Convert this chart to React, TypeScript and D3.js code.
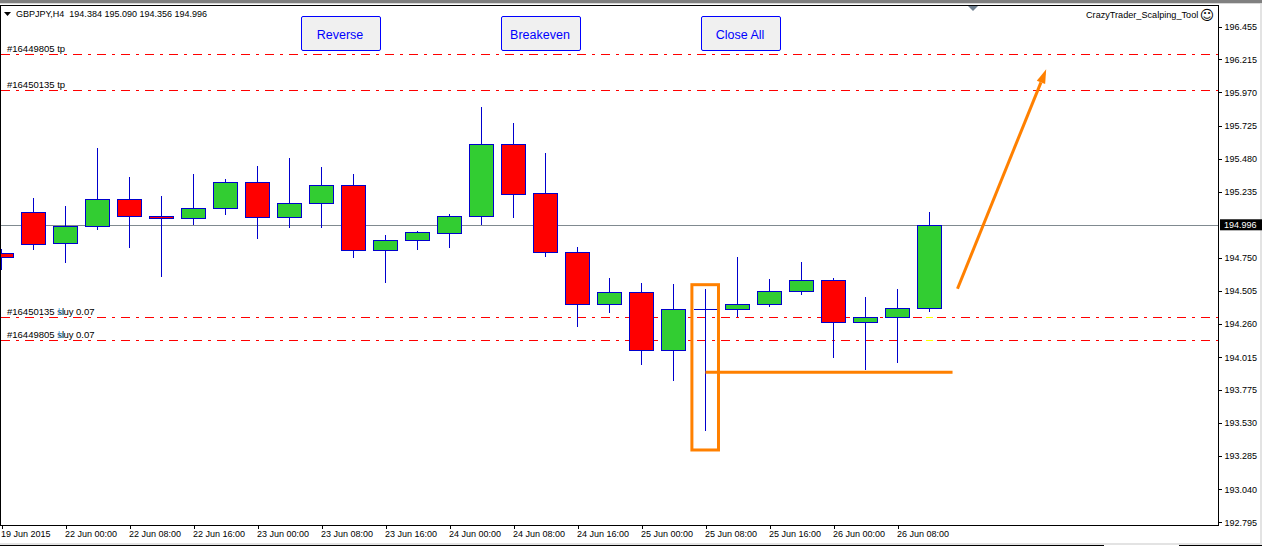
import React, {useEffect, useRef} from "react";
import * as d3 from "d3";

const W = 1262, H = 547;

const opens = [194.79, 195.092, 194.863, 194.989, 195.188, 195.062, 195.048, 195.121, 195.313, 195.055, 195.158, 195.291, 194.812, 194.885, 194.937, 195.062, 195.593, 195.232, 194.797, 194.413, 194.502, 194.074, 194.377, 194.377, 194.413, 194.509, 194.59, 194.281, 194.318, 194.384];
const highs = [194.821, 195.197, 195.131, 195.566, 195.352, 195.212, 195.374, 195.337, 195.426, 195.485, 195.419, 195.374, 194.922, 194.952, 195.072, 195.868, 195.75, 195.522, 194.829, 194.607, 194.57, 194.563, 194.519, 194.755, 194.593, 194.718, 194.607, 194.467, 194.526, 195.09];
const lows = [194.661, 194.809, 194.713, 194.956, 194.823, 194.61, 194.996, 195.07, 194.89, 194.971, 194.971, 194.75, 194.565, 194.809, 194.823, 194.998, 195.045, 194.757, 194.239, 194.342, 193.961, 193.843, 193.474, 194.315, 194.388, 194.477, 194.012, 193.922, 193.975, 194.356];
const closes = [194.76, 194.856, 194.989, 195.188, 195.062, 195.048, 195.121, 195.313, 195.055, 195.158, 195.291, 194.812, 194.885, 194.944, 195.062, 195.593, 195.225, 194.797, 194.413, 194.502, 194.074, 194.377, 194.377, 194.413, 194.509, 194.59, 194.281, 194.318, 194.384, 194.996];

const priceTicks = [196.455, 196.215, 195.97, 195.725, 195.48, 195.235, 194.75, 194.505, 194.26, 194.015, 193.775, 193.53, 193.285, 193.04, 192.795];
const timeTickIndex = [0, 2, 4, 6, 8, 10, 12, 14, 16, 18, 20, 22, 24, 26, 28];
const timeTickLabels = ["19 Jun 2015", "22 Jun 00:00", "22 Jun 08:00", "22 Jun 16:00", "23 Jun 00:00", "23 Jun 08:00", "23 Jun 16:00", "24 Jun 00:00", "24 Jun 08:00", "24 Jun 16:00", "25 Jun 00:00", "25 Jun 08:00", "25 Jun 16:00", "26 Jun 00:00", "26 Jun 08:00"];

const currentPrice = 194.996;
const orderLevels = [196.257, 195.992, 194.318, 194.148];
const orderIds = ["#16449805", "#16450135", "#16450135", "#16449805"];
const orderTypes = ["tp", "tp", "buy", "buy"];
const buttonLabels = ["Reverse", "Breakeven", "Close All"];

const FONT = "'Liberation Sans', sans-serif";
const TEXT = "#000";
const GREEN = "#32cd32", RED = "#ff0000", BLUE = "#0000cd", ORANGE = "#ff8000";

const App: React.FC = () => {
    const svgRef = useRef<SVGSVGElement | null>(null);

    useEffect(() => {
        if (!svgRef.current) return;
        const svg = d3.select(svgRef.current);
        svg.selectAll("*").remove();

        const plot = {left: 1, right: 1218, top: 5, bottom: 525};

        const x = d3.scaleLinear().domain([0, 29]).range([1.5, 929.5]);
        const y = d3.scaleLinear().domain([192.7836, 196.6206]).range([525.3, 5]);
        // MT4 rounds its axis labels, so they sit on a slightly different scale
        const yAxisScale = d3.scaleLinear().domain([192.795, 196.455]).range([522.4, 26.7]);
        const snap = (v: number) => Math.floor(v) + 0.5;

        // window chrome
        svg.append("rect").attr("width", W).attr("height", H).attr("fill", "#ffffff");
        svg.append("rect").attr("width", W).attr("height", 3).attr("fill", "#808080");
        svg.append("rect").attr("y", 3).attr("width", W).attr("height", 1).attr("fill", "#d8d8d8");
        svg.append("rect").attr("x", 1260).attr("y", 4).attr("width", 2).attr("height", 539).attr("fill", "#e3e3e3");
        svg.append("rect").attr("y", 543).attr("width", W).attr("height", 2).attr("fill", "#e3e3e3");
        svg.append("rect").attr("y", 545).attr("width", 1104).attr("height", 1).attr("fill", "#000");
        svg.append("rect").attr("x", 1179).attr("y", 545).attr("width", 83).attr("height", 1).attr("fill", "#000");

        // price levels sit behind the candles
        svg.append("line")
            .attr("x1", plot.left).attr("x2", plot.right)
            .attr("y1", snap(y(currentPrice))).attr("y2", snap(y(currentPrice)))
            .attr("stroke", "#808a90").attr("stroke-width", 1);

        svg.append("g").selectAll("line").data(orderLevels).enter().append("line")
            .attr("x1", plot.left).attr("x2", plot.right)
            .attr("y1", d => snap(y(d))).attr("y2", d => snap(y(d)))
            .attr("stroke", RED).attr("stroke-width", 1)
            .attr("stroke-dasharray", "9 6 3 6");

        // the two yellow specks on the buy lines
        svg.append("g").selectAll("line").data(orderLevels.slice(2)).enter().append("line")
            .attr("x1", x(29) - 3.5).attr("x2", x(29) + 3.5)
            .attr("y1", d => snap(y(d))).attr("y2", d => snap(y(d)))
            .attr("stroke", "#ffff00").attr("stroke-width", 1);

        // candles
        const candles = svg.append("g").attr("shape-rendering", "crispEdges");
        opens.forEach((open, i) => {
            const cx = snap(x(i));
            const top = snap(y(Math.max(open, closes[i])));
            const bottom = snap(y(Math.min(open, closes[i])));
            candles.append("line")
                .attr("x1", cx).attr("x2", cx)
                .attr("y1", Math.floor(y(highs[i]))).attr("y2", Math.floor(y(lows[i])))
                .attr("stroke", BLUE);
            const body = d3.path();
            body.rect(cx - 12, top, 24, bottom - top);
            candles.append("path")
                .attr("d", body.toString())
                .attr("fill", closes[i] >= open ? GREEN : RED)
                .attr("stroke", BLUE);
        });

        // frame
        const frame = svg.append("g").attr("stroke", "#000").attr("shape-rendering", "crispEdges");
        frame.append("line").attr("x1", 0).attr("x2", plot.right + 1).attr("y1", plot.top + 0.5).attr("y2", plot.top + 0.5);
        frame.append("line").attr("x1", 0).attr("x2", plot.right + 1).attr("y1", plot.bottom + 0.5).attr("y2", plot.bottom + 0.5);
        frame.append("line").attr("x1", 0.5).attr("x2", 0.5).attr("y1", plot.top).attr("y2", plot.bottom);
        frame.append("line").attr("x1", plot.right + 0.5).attr("x2", plot.right + 0.5).attr("y1", plot.top).attr("y2", plot.bottom + 1);

        // axes
        const yAxis = svg.append("g")
            .attr("transform", `translate(${plot.right + 0.5},0)`)
            .call(d3.axisRight(yAxisScale).tickValues(priceTicks).tickSize(3).tickPadding(3).tickFormat(d3.format(".3f") as any));
        const xAxis = svg.append("g")
            .attr("transform", `translate(0,${plot.bottom + 0.5})`)
            .call(d3.axisBottom(x).tickValues(timeTickIndex).tickSize(3).tickPadding(2)
                .tickFormat((_, i) => timeTickLabels[i]));
        [yAxis, xAxis].forEach(axis => {
            axis.select(".domain").remove();
            axis.attr("font-family", FONT).attr("font-size", 9);
            axis.selectAll("line").attr("stroke", "#000").attr("shape-rendering", "crispEdges");
            axis.selectAll("text").attr("fill", TEXT);
        });
        xAxis.selectAll("text").attr("text-anchor", "start").attr("dx", -1);

        // current price tag
        svg.append("rect")
            .attr("x", 1220).attr("y", y(currentPrice) - 6).attr("width", 42).attr("height", 11)
            .attr("fill", "#000");
        svg.append("text")
            .attr("x", 1224).attr("y", y(currentPrice)).attr("dy", "0.32em")
            .attr("font-family", FONT).attr("font-size", 9).attr("fill", "#fff")
            .text(d3.format(".3f")(currentPrice));

        // header
        svg.append("path").attr("d", "M4,12 L11,12 L7.5,16 Z").attr("fill", "#000");
        svg.append("text")
            .attr("x", 16).attr("y", 17)
            .attr("font-family", FONT).attr("font-size", 9).attr("fill", TEXT)
            .attr("xml:space", "preserve")
            .text("GBPJPY,H4  194.384 195.090 194.356 194.996");
        svg.append("path").attr("d", "M968,6 L978,6 L973,11 Z").attr("fill", "#708090");

        svg.append("text")
            .attr("x", 1086).attr("y", 18)
            .attr("font-family", FONT).attr("font-size", 9.15).attr("fill", TEXT)
            .text("CrazyTrader_Scalping_Tool");
        svg.append("text")
            .attr("x", 1207).attr("y", 20).attr("text-anchor", "middle")
            .attr("font-family", "'DejaVu Sans', sans-serif").attr("font-size", 14).attr("fill", TEXT)
            .text("\u263A");

        // order labels, the buy ones have "sl" printed over the "b" like on the terminal
        orderIds.forEach((id, i) => {
            const t = svg.append("text")
                .attr("x", 7).attr("y", Math.floor(y(orderLevels[i])) - 2)
                .attr("font-family", FONT).attr("font-size", 9.5).attr("fill", TEXT)
                .attr("xml:space", "preserve");
            if (orderTypes[i] === "tp") {
                t.text(`${id} tp`);
            } else {
                t.append("tspan").text(`${id} `);
                t.append("tspan").text("sl");
                t.append("tspan").attr("dx", -6).attr("fill", "#4a9fdc").text("b");
                t.append("tspan").text("uy 0.07");
            }
        });

        // buttons
        buttonLabels.forEach((label, i) => {
            const bx = 301.5 + 200 * i;
            svg.append("rect")
                .attr("x", bx).attr("y", 16.5).attr("width", 79).attr("height", 34).attr("rx", 1.5)
                .attr("fill", "#f0f0f0").attr("stroke", "#0000ff");
            svg.append("text")
                .attr("x", bx + 38.5).attr("y", 34.5).attr("dy", "0.35em").attr("text-anchor", "middle")
                .attr("font-family", FONT).attr("font-size", 12.5).attr("fill", "#0000ff")
                .text(label);
        });

        // hand drawn annotations
        const notes = svg.append("g").attr("stroke", ORANGE).attr("fill", "none");
        notes.append("rect")
            .attr("x", x(21.575)).attr("y", y(194.558))
            .attr("width", x(22.406) - x(21.575)).attr("height", y(193.339) - y(194.558))
            .attr("stroke-width", 3);
        notes.append("line")
            .attr("x1", x(22)).attr("x2", x(29.72))
            .attr("y1", y(193.912)).attr("y2", y(193.912))
            .attr("stroke-width", 3);

        const ax1 = x(29.875), ay1 = y(194.528), ax2 = x(32.647), ay2 = y(196.146);
        const angle = Math.atan2(ay2 - ay1, ax2 - ax1);
        const headLen = 14, headHalf = 4.5;
        const bx = ax2 - headLen * Math.cos(angle), by = ay2 - headLen * Math.sin(angle);
        notes.append("line")
            .attr("x1", ax1).attr("y1", ay1).attr("x2", bx).attr("y2", by)
            .attr("stroke-width", 3);
        svg.append("path")
            .attr("d", d3.line()([
                [ax2, ay2],
                [bx + headHalf * Math.sin(angle), by - headHalf * Math.cos(angle)],
                [bx - headHalf * Math.sin(angle), by + headHalf * Math.cos(angle)],
            ]) + "Z")
            .attr("fill", ORANGE);
    }, []);

    return <svg ref={svgRef} width={W} height={H} style={{position: "absolute", left: 0, top: 0, display: "block"}}/>;
};

export default App;
